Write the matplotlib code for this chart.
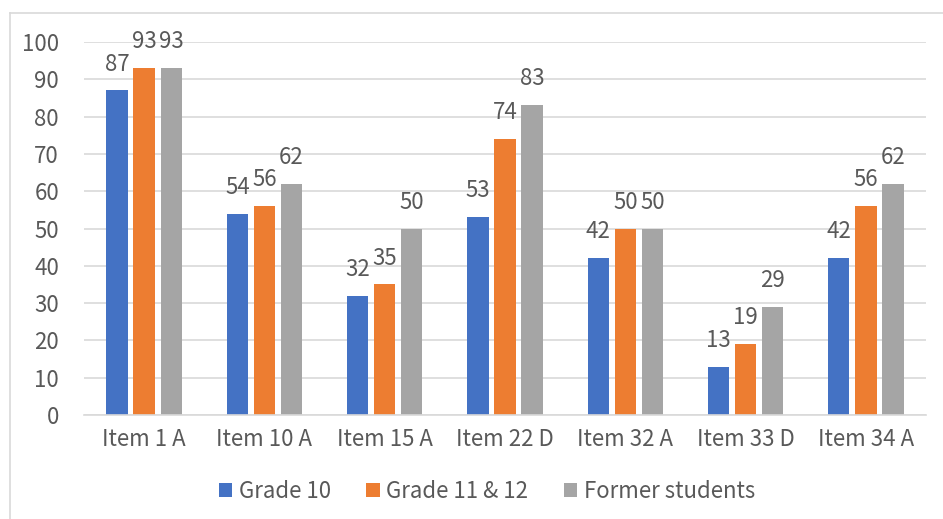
import numpy as np
import matplotlib
matplotlib.use('Agg')
import matplotlib.pyplot as plt
from matplotlib.lines import Line2D

plt.rcParams['font.family'] = ['Noto Sans CJK SC', 'DejaVu Sans']

categories = ['Item 1 A', 'Item 10 A', 'Item 15 A', 'Item 22 D', 'Item 32 A', 'Item 33 D', 'Item 34 A']
series_names = ['Grade 10', 'Grade 11 & 12', 'Former students']
grade10 = [87, 54, 32, 53, 42, 13, 42]
grade11_12 = [93, 56, 35, 74, 50, 19, 56]
former = [93, 62, 50, 83, 50, 29, 62]
colors = ['#4472C4', '#ED7D31', '#A5A5A5']

TEXT = '#595959'
GRID = '#d9d9d9'
FS = 16

fig = plt.figure(figsize=(9.43, 5.19), dpi=100)
ax = fig.add_axes([84 / 943, 104 / 519, 842 / 943, 373 / 519])

x = np.arange(len(categories))
step = 0.225
width = 0.178
for i, (vals, name, c) in enumerate(zip([grade10, grade11_12, former], series_names, colors)):
    pos = x + (i - 1) * step
    bars = ax.bar(pos, vals, width, color=c, label=name, zorder=2)
    for b, v in zip(bars, vals):
        ax.text(b.get_x() + b.get_width() / 2, v + 4.0, str(v), ha='center', va='bottom',
                fontsize=FS, color=TEXT, zorder=3)

ax.set_xlim(-0.5, len(categories) - 0.5)
ax.set_ylim(0, 100)
ax.set_yticks(range(0, 101, 10))
ax.set_xticks(x)
ax.set_xticklabels(categories)
ax.tick_params(axis='both', length=0, labelsize=FS, labelcolor=TEXT)
ax.tick_params(axis='x', pad=9)
ax.tick_params(axis='y', pad=18)
ax.yaxis.grid(True, color=GRID, linewidth=1.2, zorder=0)
for s in ['top', 'right', 'left']:
    ax.spines[s].set_visible(False)
ax.spines['bottom'].set_color(GRID)
ax.spines['bottom'].set_linewidth(1.2)

leg = fig.legend(loc='center', bbox_to_anchor=(487 / 943, 1 - 491 / 519), ncol=3, frameon=False,
                 fontsize=FS, handlelength=0.6, handleheight=0.6, handletextpad=0.3,
                 columnspacing=1.6, labelcolor=TEXT)

# chart outer border
fig.add_artist(Line2D([10 / 943, 1], [1 - 13 / 519, 1 - 13 / 519], color=GRID, lw=1.2, transform=fig.transFigure))
fig.add_artist(Line2D([10 / 943, 10 / 943], [0, 1 - 13 / 519], color=GRID, lw=1.2, transform=fig.transFigure))

fig.savefig('out.png', dpi=100)
